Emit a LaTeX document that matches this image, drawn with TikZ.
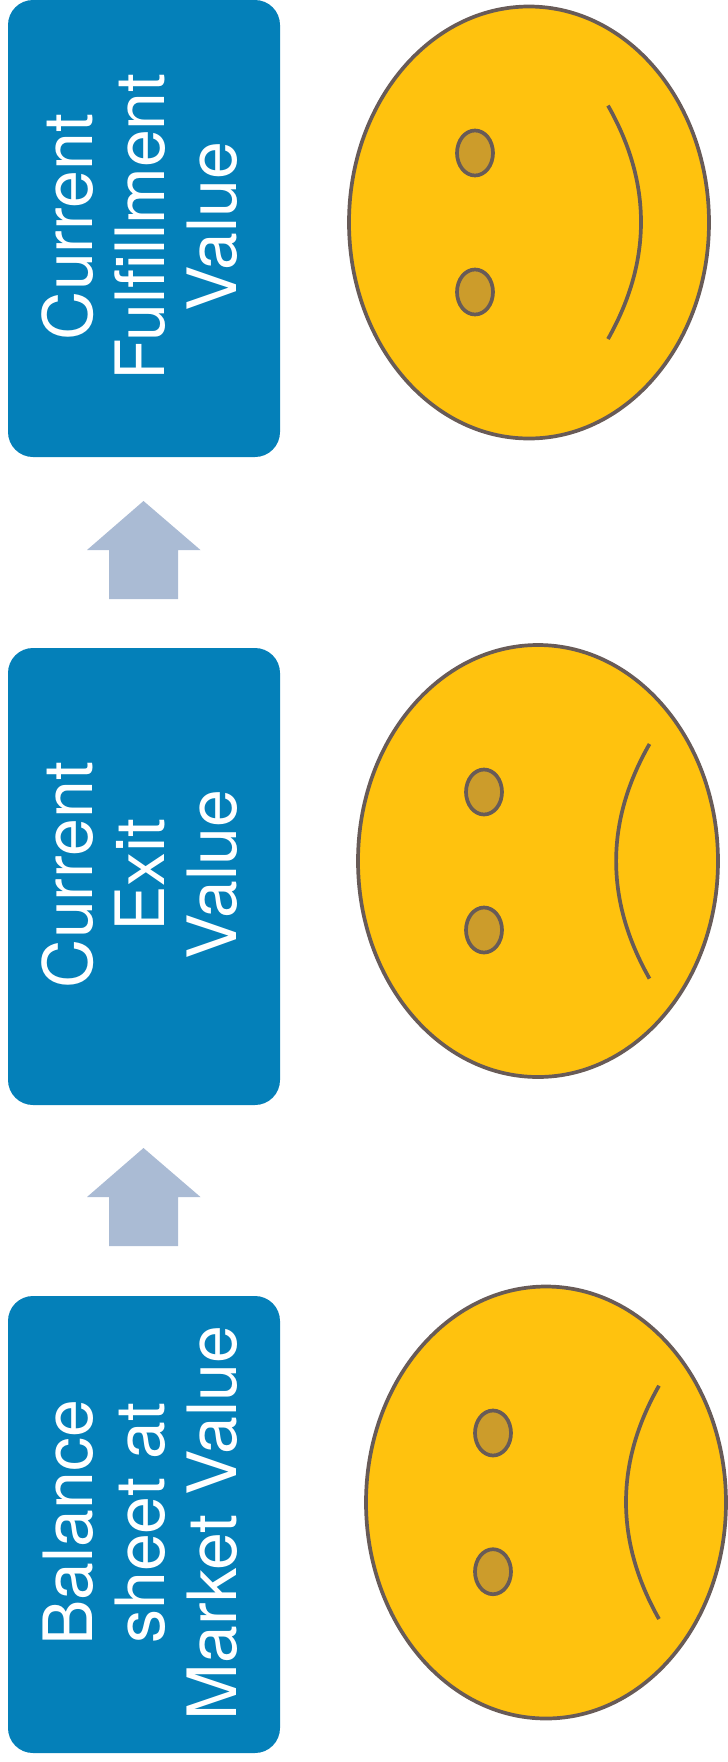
\documentclass[tikz,border=0pt]{standalone}
\usepackage{fontspec}
\setmainfont{TeX Gyre Heros}
\usetikzlibrary{shapes.geometric}
\definecolor{boxblue}{HTML}{0480B9}
\definecolor{arrowblue}{HTML}{AABBD4}
\definecolor{faceyellow}{HTML}{FFC20E}
\definecolor{eyegold}{HTML}{CC9C2B}
\definecolor{facestroke}{HTML}{685B57}
\tikzset{
  bluebox/.style={rectangle,rounded corners=25pt,fill=boxblue,minimum width=272pt,minimum height=457pt,inner sep=0pt,outer sep=0pt},
  boxtext/.style={rotate=90,align=center,text=white,inner sep=0pt,font=\fontsize{68}{72}\selectfont},
  facebody/.style={ellipse,draw=facestroke,fill=faceyellow,line width=3.7pt,minimum width=360pt,minimum height=432pt,inner sep=0pt},
  eyeshape/.style={ellipse,draw=facestroke,fill=eyegold,line width=3.7pt,minimum width=36pt,minimum height=45pt,inner sep=0pt},
  mouthline/.style={draw=facestroke,line width=3.7pt},
  blockarrow/.style={fill=arrowblue}
}
\begin{document}
\begin{tikzpicture}[x=1pt,y=-1pt]
\useasboundingbox (0,0) rectangle (728,1762);
% boxes
\node[bluebox] (b1) at (144,228.5) {};
\node[bluebox] (b2) at (144,876.5) {};
\node[bluebox] (b3) at (144,1524.5) {};
\node[boxtext] (t1) at (140,227) {Current\\Fulfillment\\Value};
\node[boxtext] (t2) at (140,875) {Current\\Exit\\Value};
\node[boxtext] (t3) at (140,1523) {Balance\\sheet at\\Market Value};
% block arrows
\fill[blockarrow] (143.5,501) -- (200.5,550) -- (178,550) -- (178,599) -- (109,599) -- (109,550) -- (87,550) -- cycle;
\fill[blockarrow] (143.5,1148) -- (200.5,1197) -- (178,1197) -- (178,1246) -- (109,1246) -- (109,1197) -- (87,1197) -- cycle;
% faces
\node[facebody] (f1) at (529,222.5) {};
\node[eyeshape] (e1a) at (475,153) {};
\node[eyeshape] (e1b) at (475,292) {};
\coordinate (m1a) at (608,105.6);
\coordinate (m1b) at (608,339);
\draw[mouthline] (m1a) .. controls (652,183) and (652,261) .. (m1b);
\node[facebody] (f2) at (538,861) {};
\node[eyeshape] (e2a) at (484,792) {};
\node[eyeshape] (e2b) at (484,930) {};
\coordinate (m2a) at (649.5,744);
\coordinate (m2b) at (649.5,978.6);
\draw[mouthline] (m2a) .. controls (605,822) and (605,900) .. (m2b);
\node[facebody] (f3) at (546,1502.5) {};
\node[eyeshape] (e3a) at (493,1433) {};
\node[eyeshape] (e3b) at (493,1571.7) {};
\coordinate (m3a) at (659,1385.7);
\coordinate (m3b) at (659,1619);
\draw[mouthline] (m3a) .. controls (615,1463) and (615,1541) .. (m3b);
\end{tikzpicture}
\end{document}
